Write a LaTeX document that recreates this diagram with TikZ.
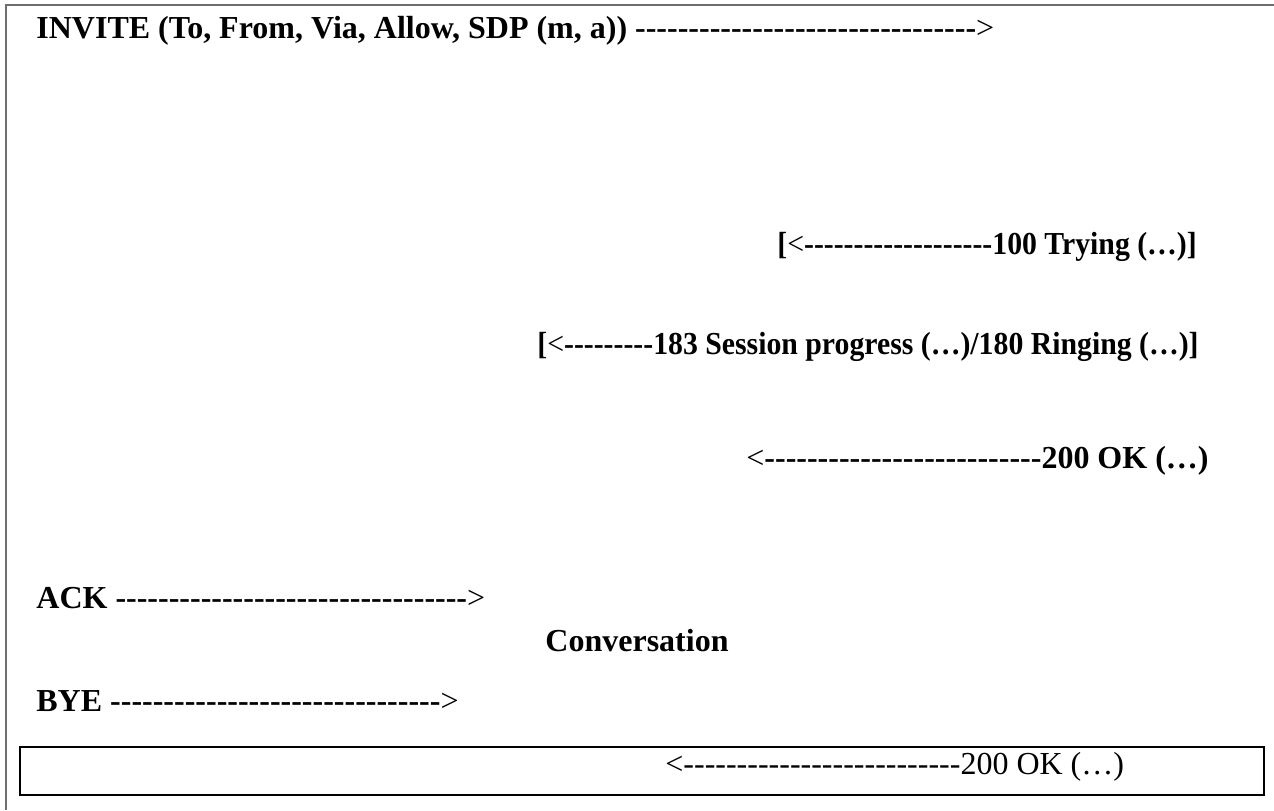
\documentclass[tikz,border=0pt]{standalone}
\usepackage{fontspec}
\setmainfont{Liberation Serif}
\newfontfamily\narrowserif{Liberation Serif}[FakeStretch=0.93]
\usepackage{xcolor}
\usetikzlibrary{positioning}
\definecolor{frame}{HTML}{6E6E6E}
\definecolor{ink}{HTML}{000000}
\tikzset{
  msg/.style = {anchor=base west,inner sep=0pt,text=ink,font=\fontsize{16}{19}\selectfont\bfseries},
  msgn/.style = {msg,font=\fontsize{16}{19}\selectfont\narrowserif\bfseries},
  msgr/.style = {anchor=base west,inner sep=0pt,text=ink,font=\fontsize{16}{19}\selectfont},
  outer/.style = {draw=frame,line width=0.8pt},
  inner/.style = {draw=ink,line width=0.8pt}
}
\newcommand{\dashes}[1]{\foreach \i in {1,...,#1}{-}}
\newcommand{\la}{{\mdseries<}}
\newcommand{\ra}{{\mdseries>}}

\begin{document}
\begin{tikzpicture}[x=0.5pt,y=-0.5pt]
\useasboundingbox (0,0) rectangle (1274,810);

% frame
\draw[outer] (6,810) -- (6,5) -- (1274,5);
\draw[inner] (20,747) rectangle (1264,795);

\node[msg] (invite) at (36,38) {INVITE (To, From, Via, Allow, SDP (m, a)) \dashes{32}\ra};
\node[msgn] (trying) at (777,254) {[\la\dashes{19}100 Trying (\dots)]};
\node[msgn] (ringing) at (537,354) {[\la\dashes{9}183 Session progress (\dots)/180 Ringing (\dots)]};
\node[msg] (ok) at (746,468) {\la\dashes{26}200 OK (\dots)};
\node[msg] (ack) at (36,608) {ACK \dashes{33}\ra};
\node[msg,anchor=base] (conv) at (637,651) {Conversation};
\node[msg] (bye) at (36,711) {BYE \dashes{31}\ra};
\node[msgr] (okend) at (665,774) {<\dashes{26}200 OK (\dots)};
\end{tikzpicture}
\end{document}
